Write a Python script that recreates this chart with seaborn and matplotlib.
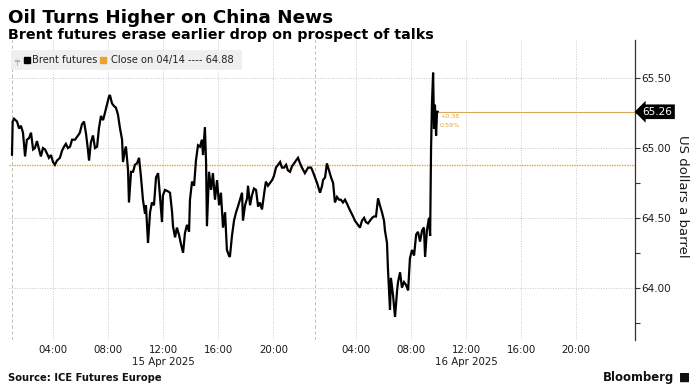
import numpy as np
import pandas as pd
import matplotlib
matplotlib.use("Agg")
import matplotlib.pyplot as plt
import matplotlib.transforms as mtransforms
from matplotlib.lines import Line2D
from matplotlib.patches import FancyBboxPatch
import seaborn as sns

# ---------------- data ----------------
# trading minutes since 15 Apr 01:00, with the 23:00-01:00 break removed
session_minutes = [
    0, 3, 9, 22, 31, 39, 48, 57, 65, 74, 83, 92, 100, 109, 118, 126, 135, 144, 153, 161,
    170, 179, 187, 196, 209, 218, 227, 235, 244, 253, 262, 275, 288, 296, 305, 314, 323, 331, 336, 344,
    353, 362, 371, 379, 388, 397, 405, 414, 423, 427, 436, 445, 453, 462, 471, 480, 484, 493, 497, 506,
    510, 519, 528, 536, 545, 554, 562, 571, 580, 584, 593, 602, 610, 619, 628, 637, 645, 654, 658, 667,
    680, 689, 698, 702, 711, 719, 728, 737, 746, 754, 763, 772, 776, 785, 794, 802, 811, 820, 828, 833,
    841, 846, 850, 859, 868, 876, 885, 894, 903, 911, 920, 929, 937, 946, 950, 959, 968, 977, 985, 994,
    1003, 1007, 1016, 1025, 1029, 1038, 1046, 1055, 1064, 1073, 1081, 1090, 1099, 1107, 1116, 1125, 1134, 1142, 1151, 1160,
    1169, 1177, 1186, 1195, 1203, 1212, 1221, 1230, 1238, 1247, 1256, 1264, 1277, 1291, 1304, 1312, 1321, 1330, 1343, 1352,
    1356, 1365, 1373, 1382, 1391, 1400, 1408, 1417, 1426, 1434, 1443, 1452, 1461, 1469, 1478, 1487, 1495, 1504, 1513, 1517,
    1526, 1535, 1543, 1552, 1561, 1570, 1578, 1587, 1596, 1604, 1613, 1622, 1626, 1635, 1639, 1648, 1652, 1661, 1670, 1679,
    1683, 1692, 1700, 1709, 1718, 1727, 1735, 1744, 1753, 1762, 1770, 1779, 1788, 1796, 1801, 1809, 1818, 1823, 1827, 1831,
    1836, 1840, 1844, 1849, 1853, 1857,
]
brent_price = [
    64.95, 65.19, 65.21, 65.19, 65.14, 65.16, 65.11, 64.94, 65.06, 65.07, 65.11, 64.99, 65.00, 65.05, 64.99, 64.94, 65.00, 64.99, 64.96, 64.93,
    64.95, 64.90, 64.88, 64.91, 64.93, 64.98, 65.01, 65.03, 65.00, 65.01, 65.06, 65.06, 65.09, 65.11, 65.17, 65.19, 65.10, 64.99, 64.91, 65.04,
    65.09, 65.00, 65.01, 65.14, 65.23, 65.20, 65.25, 65.31, 65.37, 65.38, 65.32, 65.30, 65.29, 65.24, 65.14, 65.06, 64.90, 64.99, 65.01, 64.84,
    64.61, 64.83, 64.83, 64.88, 64.89, 64.93, 64.80, 64.63, 64.53, 64.59, 64.32, 64.54, 64.61, 64.59, 64.79, 64.82, 64.66, 64.47, 64.66, 64.70,
    64.69, 64.68, 64.54, 64.44, 64.36, 64.43, 64.38, 64.31, 64.25, 64.39, 64.45, 64.40, 64.63, 64.76, 64.73, 64.91, 65.02, 65.01, 65.06, 64.95,
    65.15, 64.91, 64.44, 64.83, 64.70, 64.82, 64.63, 64.77, 64.59, 64.68, 64.43, 64.54, 64.27, 64.23, 64.22, 64.37, 64.48, 64.54, 64.58, 64.63,
    64.68, 64.48, 64.59, 64.64, 64.73, 64.59, 64.66, 64.71, 64.70, 64.58, 64.61, 64.56, 64.67, 64.76, 64.73, 64.75, 64.77, 64.80, 64.86, 64.88,
    64.90, 64.86, 64.86, 64.88, 64.84, 64.83, 64.87, 64.89, 64.91, 64.93, 64.89, 64.86, 64.82, 64.86, 64.86, 64.83, 64.79, 64.75, 64.68, 64.73,
    64.77, 64.79, 64.89, 64.84, 64.79, 64.75, 64.61, 64.65, 64.63, 64.63, 64.61, 64.63, 64.60, 64.57, 64.54, 64.51, 64.48, 64.46, 64.44, 64.43,
    64.48, 64.50, 64.47, 64.46, 64.48, 64.50, 64.51, 64.51, 64.64, 64.59, 64.54, 64.48, 64.41, 64.32, 64.14, 63.84, 64.07, 63.95, 63.79, 63.98,
    64.04, 64.11, 64.00, 64.04, 64.02, 63.98, 64.21, 64.27, 64.23, 64.38, 64.40, 64.33, 64.41, 64.43, 64.22, 64.41, 64.50, 64.37, 64.99, 65.32,
    65.54, 65.14, 65.31, 65.09, 65.26, 65.26,
]
prev_close = 64.88
last_price = 65.26
change_abs = "+0.38"
change_pct = "0.59%"

xtick_minutes = [180, 420, 660, 900, 1140, 1500, 1740, 1980, 2220, 2460]
xtick_labels = ["04:00", "08:00", "12:00", "16:00", "20:00",
                "04:00", "08:00", "12:00", "16:00", "20:00"]
session_opens = [0, 1320]
date_label_minutes = [660, 1980]
date_labels = ["15 Apr 2025", "16 Apr 2025"]
ytick_values = [64.0, 64.5, 65.0, 65.5]
ytick_labels = ["64.00", "64.50", "65.00", "65.50"]
yminor_values = [63.75, 64.25, 64.75, 65.25]
x_range = (-13, 2714)
y_range = (63.625, 65.774)

title = "Oil Turns Higher on China News"
subtitle = "Brent futures erase earlier drop on prospect of talks"
source = "Source: ICE Futures Europe"
series_label = "Brent futures"
close_label = "Close on 04/14 ---- 64.88"
y_label = "US dollars a barrel"

ORANGE = "#eba12e"
ORANGE_LINE = "#d9a75a"

W, H = 699, 392


def fx(px):
    return px / W


def fy(py):
    return 1 - py / H


# ---------------- figure ----------------
sns.set_theme(style="white")
plt.rcParams["font.family"] = ["DejaVu Sans"]

fig = plt.figure(figsize=(6.99, 3.92), dpi=100)
fig.patch.set_facecolor("white")
ax = fig.add_axes([9 / W, 52 / H, 625.5 / W, 300 / H])
ax.set_facecolor("white")

df = pd.DataFrame({"minute": session_minutes, "price": brent_price})
sns.lineplot(data=df, x="minute", y="price", color="black", linewidth=1.6,
             estimator=None, sort=False, ax=ax, zorder=5, legend=False)
for ln in ax.get_lines():
    ln.set_solid_joinstyle("miter")

ax.set_xlim(*x_range)
ax.set_ylim(*y_range)

# grid
ax.set_xticks(xtick_minutes)
ax.set_xticklabels(xtick_labels)
ax.set_yticks(ytick_values)
ax.set_yticklabels(ytick_labels)
ax.set_yticks(yminor_values, minor=True)
ax.grid(axis="x", which="major", color="#c8c8c8", linestyle=(0, (1, 1.6)), linewidth=0.7)
ax.grid(axis="y", which="major", color="#c8c8c8", linestyle=(0, (1, 1.6)), linewidth=0.7)
for m in session_opens:
    ax.axvline(m, color="#bdbdbd", linestyle=(0, (3.5, 2.5)), linewidth=0.7, zorder=1)

# reference lines
ax.axhline(prev_close, color=ORANGE, linestyle=(0, (1, 0.8)), linewidth=1.0, zorder=2)
ax.hlines(last_price, session_minutes[-1], x_range[1], color=ORANGE_LINE, linewidth=0.8, zorder=2)

# spines / ticks
for s in ["top", "left", "bottom"]:
    ax.spines[s].set_visible(False)
ax.spines["right"].set_color("#333333")
ax.spines["right"].set_linewidth(0.9)
ax.yaxis.tick_right()
ax.tick_params(axis="y", which="both", direction="out", length=3.5, width=0.8,
               color="#333333", labelsize=7.5, pad=1.5, labelcolor="#1a1a1a")
ax.tick_params(axis="x", which="major", direction="out", length=3, width=0.7,
               color="#cccccc", labelsize=7.4, pad=0.3, labelcolor="#1a1a1a")
ax.set_xlabel("")
ax.set_ylabel(y_label, fontsize=9.5, color="#1a1a1a")
ax.yaxis.set_label_position("right")
ax.yaxis.label.set(rotation=270, rotation_mode="default", ha="center", va="center")
ax.yaxis.set_label_coords(1.0775, 0.48)

# date labels
trans_xd = mtransforms.blended_transform_factory(ax.transData, ax.transAxes)
for m, lab in zip(date_label_minutes, date_labels):
    ax.text(m, -0.073, lab, transform=trans_xd, ha="center", va="center",
            fontsize=7.4, color="#1a1a1a")

# last price tag
trans_ad = mtransforms.blended_transform_factory(ax.transAxes, ax.transData)
ax.text(1.013, last_price, f"{last_price:.2f}", transform=trans_ad, ha="left", va="center",
        fontsize=7.6, color="white", clip_on=False,
        bbox=dict(boxstyle="larrow,pad=0.22", fc="black", ec="none"))

# change annotation
ax.annotate(change_abs, xy=(session_minutes[-1], last_price), xytext=(1.5, -3.6),
            textcoords="offset points", fontsize=4.6, color=ORANGE, ha="left", va="center", zorder=6)
ax.annotate(change_pct, xy=(session_minutes[-1], last_price), xytext=(1.5, -10.2),
            textcoords="offset points", fontsize=4.6, color=ORANGE, ha="left", va="center", zorder=6)

# legend (manual, Bloomberg style)
fig.patches.append(FancyBboxPatch((fx(11), fy(70)), fx(242) - fx(11), fy(50) - fy(70),
                                  boxstyle="round,pad=0,rounding_size=0.004",
                                  transform=fig.transFigure, fc="#efefef", ec="none", zorder=2))
fig.text(fx(16.5), fy(60.5), "\u2564", fontsize=6, color="#9a9a9a", ha="center", va="center", zorder=4)
fig.add_artist(Line2D([fx(26.5)], [fy(60)], marker="s", markersize=4.4, color="black",
                      linestyle="None", transform=fig.transFigure, zorder=4))
fig.text(fx(31.5), fy(60), series_label, fontsize=7.1, color="#222222", ha="left", va="center", zorder=4)
fig.add_artist(Line2D([fx(103)], [fy(60)], marker="s", markersize=4.4, color=ORANGE,
                      linestyle="None", transform=fig.transFigure, zorder=4))
fig.text(fx(110.5), fy(60), close_label, fontsize=7.1, color="#222222", ha="left", va="center", zorder=4)

# titles & footer
fig.text(fx(8), fy(18), title, fontsize=13.2, weight="bold", color="black",
         ha="left", va="center")
fig.text(fx(8), fy(35.5), subtitle, fontsize=10.3, weight="bold", color="black",
         ha="left", va="center")
fig.text(fx(8), fy(378), source, fontsize=7.2, weight="bold", color="#111111",
         ha="left", va="center")
fig.text(fx(674), fy(377), "Bloomberg", fontsize=8.4, weight="semibold", color="#111111",
         ha="right", va="center")
fig.text(fx(685), fy(377), "\u25a0", fontsize=8.5, color="#111111", ha="center", va="center")

fig.savefig("out.png", dpi=100, facecolor="white")
